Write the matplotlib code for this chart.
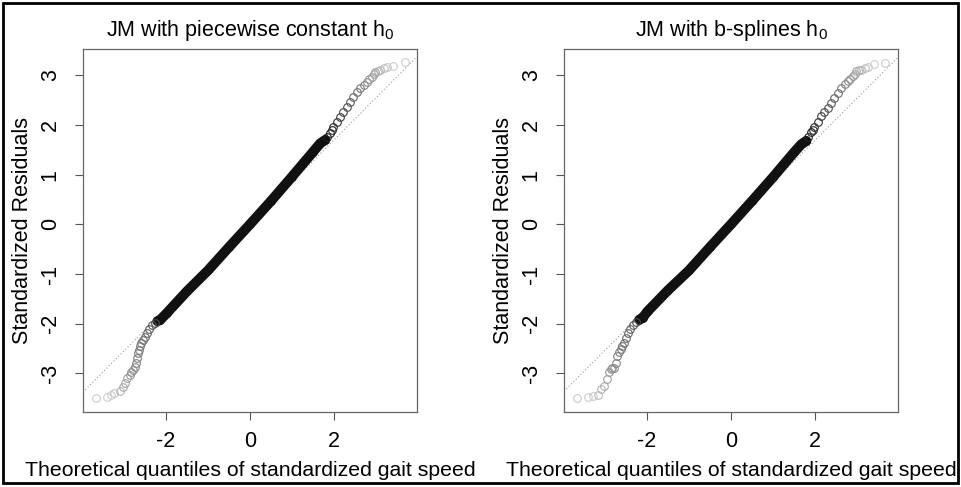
import numpy as np
import matplotlib.pyplot as plt
from matplotlib.patches import Rectangle

plt.rcParams['font.family'] = ['Liberation Sans', 'DejaVu Sans']
plt.rcParams['mathtext.fontset'] = 'custom'
plt.rcParams['mathtext.rm'] = 'Liberation Sans'
plt.rcParams['mathtext.it'] = 'Liberation Sans'

#? values (theoretical quantile, standardized residual)
titles = ["JM with piecewise constant h$_0$", "JM with b-splines h$_0$"]
x_label = "Theoretical quantiles of standardized gait speed"
y_label = "Standardized Residuals"
x_ticks = [-2, 0, 2]
y_ticks = [-3, -2, -1, 0, 1, 2, 3]

# dense middle part (drawn as a solid band)
pc_mid_x = [-2.20, -2.14, -1.98, -1.50, -1.00, -0.50, 0.00, 0.50, 1.00, 1.50, 1.67, 1.79]
pc_mid_y = [-1.95, -1.93, -1.79, -1.35, -0.93, -0.46, 0.00, 0.47, 0.96, 1.46, 1.63, 1.70]
bs_mid_x = [-2.18, -2.10, -1.98, -1.50, -1.00, -0.50, 0.00, 0.50, 1.00, 1.50, 1.67, 1.79]
bs_mid_y = [-1.92, -1.88, -1.75, -1.33, -0.93, -0.46, 0.00, 0.47, 0.95, 1.45, 1.61, 1.68]

# tails
pc_low_x = [-3.67, -3.39, -3.30, -3.24, -3.10, -3.02, -2.98, -2.92, -2.86, -2.82, -2.78, -2.74,
            -2.70, -2.68, -2.66, -2.64, -2.62, -2.58, -2.54, -2.50, -2.46, -2.40, -2.34, -2.26]
pc_low_y = [-3.50, -3.48, -3.43, -3.40, -3.35, -3.27, -3.20, -3.10, -3.03, -2.97, -2.93, -2.88,
            -2.80, -2.70, -2.60, -2.53, -2.46, -2.40, -2.33, -2.26, -2.19, -2.10, -2.03, -1.98]
pc_up_x = [1.84, 1.90, 1.94, 1.98, 2.06, 2.14, 2.22, 2.30, 2.38, 2.46, 2.54, 2.62,
           2.70, 2.78, 2.84, 2.90, 2.94, 2.98, 3.04, 3.10, 3.18, 3.25, 3.41, 3.68]
pc_up_y = [1.76, 1.83, 1.90, 1.96, 2.06, 2.16, 2.27, 2.37, 2.47, 2.57, 2.66, 2.74,
           2.81, 2.87, 2.92, 2.97, 3.02, 3.07, 3.09, 3.10, 3.14, 3.17, 3.19, 3.27]

bs_low_x = [-3.67, -3.40, -3.29, -3.17, -3.10, -3.02, -2.94, -2.90, -2.86, -2.82, -2.78, -2.74,
            -2.70, -2.66, -2.62, -2.58, -2.54, -2.50, -2.46, -2.40, -2.34, -2.26]
bs_low_y = [-3.49, -3.47, -3.45, -3.44, -3.32, -3.25, -3.12, -2.98, -2.92, -2.90, -2.89, -2.79,
            -2.65, -2.58, -2.52, -2.45, -2.39, -2.29, -2.19, -2.10, -2.02, -1.96]
bs_up_x = [1.84, 1.90, 1.94, 1.98, 2.06, 2.14, 2.22, 2.30, 2.38, 2.46, 2.54, 2.62,
           2.70, 2.78, 2.84, 2.90, 2.94, 2.98, 3.04, 3.10, 3.18, 3.25, 3.39, 3.67]
bs_up_y = [1.75, 1.85, 1.90, 1.95, 2.07, 2.18, 2.27, 2.35, 2.45, 2.55, 2.65, 2.75,
           2.82, 2.88, 2.93, 2.98, 3.03, 3.08, 3.10, 3.11, 3.14, 3.17, 3.23, 3.25]

# qqline (intercept, slope)
pc_line = (0.0, 0.851)
bs_line = (0.0, 0.847)

panels = [
    (pc_mid_x, pc_mid_y, pc_low_x + pc_up_x, pc_low_y + pc_up_y, pc_line),
    (bs_mid_x, bs_mid_y, bs_low_x + bs_up_x, bs_low_y + bs_up_y, bs_line),
]

fig = plt.figure(figsize=(9.61, 4.87), dpi=100)
fig.patches.append(Rectangle((3 / 961, 4 / 487), 955 / 961, 480 / 487, transform=fig.transFigure,
                             fill=False, edgecolor='black', linewidth=2))

lefts = [83 / 961, 564 / 961]
for i, (mx, my, tx, ty, line) in enumerate(panels):
    ax = fig.add_axes([lefts[i], 75 / 487, 334 / 961, 363 / 487])
    ax.set_xlim(-3.97, 3.97)
    ax.set_ylim(-3.78, 3.53)

    ax.axline((0, line[0]), slope=line[1], color='#999999', linestyle=(0, (1, 2)),
              linewidth=0.8, zorder=1)

    # dense centre of the qq plot
    ax.plot(mx, my, color='#111111', linewidth=7.2, solid_capstyle='round', zorder=2)
    ax.plot(mx, my, 'o', mfc='none', mec='#111111', ms=5.5, mew=0.8, zorder=3)

    # tails get lighter the further out they go
    tx = np.array(tx)
    ty = np.array(ty)
    g = np.clip((np.abs(tx) - 1.9) / 1.4, 0, 1) * 0.68 + 0.12
    for xi, yi, gi in zip(tx, ty, g):
        ax.plot(xi, yi, 'o', mfc='none', mec=(gi, gi, gi), ms=5.5, mew=0.8, zorder=3)

    ax.set_xticks(x_ticks)
    ax.set_yticks(y_ticks)
    ax.set_xticklabels([str(t) for t in x_ticks])
    ax.set_yticklabels([str(t) for t in y_ticks], rotation=90, va='center')
    ax.tick_params(direction='out', length=6, width=0.8, color='#555555', labelsize=15.5)
    ax.tick_params(axis='x', pad=8)
    ax.tick_params(axis='y', pad=10)
    for s in ax.spines.values():
        s.set_color('#666666')
        s.set_linewidth(0.9)

    ax.text(0.5, 1.052, titles[i], transform=ax.transAxes, ha='center', va='center', fontsize=15.5)
    ax.set_xlabel(x_label, fontsize=15.3)
    ax.xaxis.set_label_coords(0.5, -0.135)
    ax.set_ylabel(y_label, fontsize=15.5)
    ax.yaxis.set_label_coords(-0.15, 0.5)

fig.savefig("out.png", dpi=100)
